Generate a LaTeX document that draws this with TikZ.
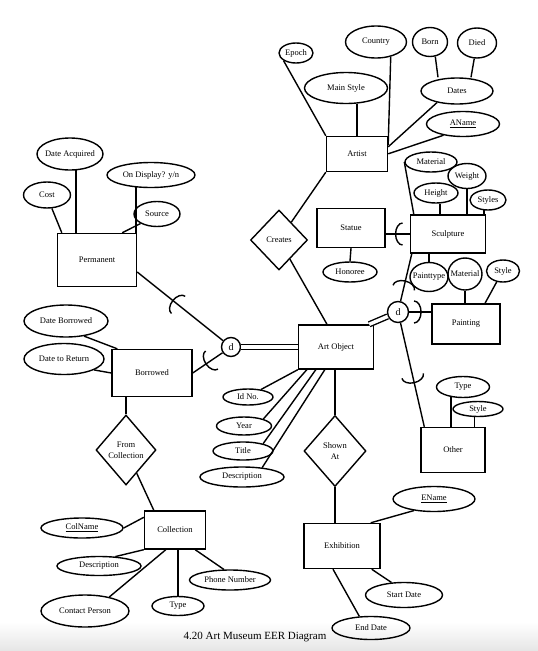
\documentclass[tikz,border=0pt]{standalone}
\usepackage{fontspec}
\setmainfont{Liberation Serif}
\usetikzlibrary{shapes.geometric,decorations.markings}
\tikzset{entity/.style = {draw, rectangle, inner sep=0pt},
  attr/.style = {draw, ellipse, inner xsep=-4pt, inner ysep=0pt},
  rel/.style = {draw, diamond, inner sep=0pt, align=center},
  disj/.style = {draw, circle, minimum size=21pt, inner sep=0pt, font=\fontsize{10}{12}\selectfont},
  dbl/.style = {double, double distance=3.5pt},
  subarc/.style = {postaction=decorate, decoration={markings,
      mark=at position #1 with {\draw (0pt,11pt) arc[start angle=90, end angle=270, x radius=7pt, y radius=11pt];}}}}

\begin{document}
\begin{tikzpicture}[x=1pt, y=-1pt, line width=1.4pt, font=\fontsize{8.5}{11}\selectfont]
        \useasboundingbox (0,0) rectangle (538,651);
        \shade[top color=white, bottom color=black!10] (0,622) rectangle (538,651);
        % artist
        \node[entity, minimum width=61, minimum height=35] (artist) at (357,154) {Artist};
        \node[attr, minimum width=34, minimum height=20] (epoch) at (296,53) {Epoch};
        \node[attr, minimum width=61, minimum height=32] (country) at (376,42) {Country};
        \node[attr, minimum width=35, minimum height=29] (born) at (430,42) {Born};
        \node[attr, minimum width=39, minimum height=30] (died) at (477,43) {Died};
        \node[attr, minimum width=83, minimum height=31] (mainstyle) at (346,88) {Main Style};
        \node[attr, minimum width=72, minimum height=26] (dates) at (457,91) {Dates};
        \node[attr, minimum width=73, minimum height=25] (aname) at (463,124) {\underline{AName}};
        \draw (epoch.south west) -- (artist.north west);
        \draw (artist.north) -- (artist.north |- mainstyle.south);
        \draw (country.-45) -- ([yshift=-9pt]artist.north east);
        \draw (dates.210) -- ([yshift=-11pt]artist.north east);
        \draw (aname.210) -- ([yshift=-18pt]artist.north east);
        \draw (born.-70) -- ([xshift=-19pt]dates.north);
        \draw (died.-100) -- ([xshift=14pt]dates.north);
        % sculpture, statue
        \node[entity, minimum width=75, minimum height=38] (sculpture) at (448,234) {Sculpture};
        \node[attr, minimum width=52, minimum height=20] (material) at (431,162) {Material};
        \node[attr, minimum width=38, minimum height=25] (weight) at (467,176) {Weight};
        \node[attr, minimum width=44, minimum height=20] (height) at (436,193) {Height};
        \node[attr, minimum width=36, minimum height=20] (styles) at (488,200) {Styles};
        \draw (material.west) -- ([xshift=4pt]sculpture.north west);
        \draw (weight.south) -- (weight.south |- sculpture.north);
        \draw (height.-70) -- (height.-70 |- sculpture.north);
        \draw (styles.-110) -- (styles.-110 |- sculpture.north);
        \node[entity, minimum width=68, minimum height=39] (statue) at (351,228) {Statue};
        \node[attr, minimum width=54, minimum height=20] (honoree) at (350,272) {Honoree};
        \draw (statue.south) -- (honoree.north);
        \draw[subarc=0.7] (sculpture.west -| statue.east) -- (sculpture.west);
        % art object and its subclasses
        \node[rel, minimum width=57, minimum height=60] (creates) at (279,240) {Creates};
        \node[entity, minimum width=75, minimum height=44] (artobj) at (336,347) {Art Object};
        \draw (artist.south west) -- (creates);
        \draw (creates) -- ([xshift=-9pt]artobj.north);
        \node[disj] (dright) at (398,312) {d};
        \node[entity, minimum width=68, minimum height=40] (painting) at (466,324) {Painting};
        \node[attr, minimum width=38, minimum height=29] (painttype) at (429,277) {Painttype};
        \node[attr, minimum width=34, minimum height=32] (material2) at (465,274) {Material};
        \node[attr, minimum width=33, minimum height=22] (style) at (503,271) {Style};
        \draw (painttype.north) -- (painttype.north |- sculpture.south);
        \draw (material2.south) -- (material2.south |- painting.north);
        \draw (style.-120) -- ([xshift=19pt]painting.north);
        \node[entity, minimum width=64, minimum height=45] (other) at (453,450) {Other};
        \node[attr, minimum width=53, minimum height=21] (type2) at (463,387) {Type};
        \node[attr, minimum width=50, minimum height=15] (style2) at (478,409) {Style};
        \draw (type2.-140) -- (type2.-140 |- other.north);
        \draw (style2.-115) -- (style2.-115 |- other.north);
        \draw[dbl] ([xshift=-5pt]artobj.north east) -- (dright);
        \draw[subarc=0.72] ([xshift=2pt]sculpture.south west) -- (dright);
        \draw[subarc=0.78] (dright -| painting.west) -- (dright);
        \draw[subarc=0.49] ([xshift=4pt]other.north west) -- (dright);
        % permanent / borrowed
        \node[entity, minimum width=79, minimum height=53] (permanent) at (97,260) {Permanent};
        \node[attr, minimum width=47, minimum height=26] (cost) at (47,195) {Cost};
        \node[attr, minimum width=66, minimum height=32] (dateacq) at (70,154) {Date Acquired};
        \node[attr, minimum width=88, minimum height=25] (ondisplay) at (151,175) {On Display? y/n};
        \node[attr, minimum width=46, minimum height=25] (source) at (157,214) {Source};
        \draw (cost.-70) -- ([xshift=5pt]permanent.north west);
        \draw (dateacq.-70) -- (dateacq.-70 |- permanent.north);
        \draw (ondisplay.-140) -- (ondisplay.-140 |- permanent.north);
        \draw (source.-150) -- ([xshift=-15pt]permanent.north east);
        \node[disj, minimum size=19pt] (dleft) at (231,347) {d};
        \node[entity, minimum width=80, minimum height=47] (borrowed) at (152,373) {Borrowed};
        \node[attr, minimum width=84, minimum height=32] (datebor) at (66,321) {Date Borrowed};
        \node[attr, minimum width=80, minimum height=31] (dateret) at (64,359) {Date to Return};
        \draw (datebor.-40) -- ([xshift=6pt]borrowed.north west);
        \draw (dateret.-20) -- (borrowed.west);
        \draw[subarc=0.48] ([yshift=-12pt]permanent.east) -- (dleft);
        \draw[subarc=0.64] (borrowed.east) -- (dleft);
        \draw[dbl] (dleft) -- (dleft -| artobj.west);
        % collection
        \node[rel, minimum width=60, minimum height=70] (fromcoll) at (126,450) {From\\Collection};
        \node[entity, minimum width=61, minimum height=38] (collection) at (175,530) {Collection};
        \draw (fromcoll.north) -- (fromcoll.north |- borrowed.south);
        \draw (fromcoll) -- ([xshift=10pt]collection.north west);
        \node[attr, minimum width=82, minimum height=20] (colname) at (82,528) {\underline{ColName}};
        \node[attr, minimum width=84, minimum height=19] (colldesc) at (99,566) {Description};
        \node[attr, minimum width=88, minimum height=32] (contact) at (85,611) {Contact Person};
        \node[attr, minimum width=52, minimum height=19] (colltype) at (178,606) {Type};
        \node[attr, minimum width=81, minimum height=20] (phone) at (230,580) {Phone Number};
        \draw (colname.east) -- ([yshift=-7pt]collection.north west);
        \draw (colldesc.30) -- (collection.south west);
        \draw (contact.30) -- ([xshift=22pt]collection.south west);
        \draw (colltype.north) -- (colltype.north |- collection.south);
        \draw (phone.120) -- ([xshift=-11pt]collection.south east);
        % art object attributes
        \node[attr, minimum width=50, minimum height=16] (idno) at (248,397) {Id No.};
        \node[attr, minimum width=55, minimum height=18] (year) at (244,426) {Year};
        \node[attr, minimum width=60, minimum height=18] (title) at (243,451) {Title};
        \node[attr, minimum width=84, minimum height=20] (artdesc) at (242,477) {Description};
        \draw (idno.30) -- (artobj.south west);
        \draw (year.20) -- ([xshift=9pt]artobj.south west);
        \draw (title.20) -- ([xshift=18pt]artobj.south west);
        \draw (artdesc.25) -- ([xshift=27pt]artobj.south west);
        % exhibition
        \node[rel, minimum width=62, minimum height=71] (shownat) at (335,451) {Shown\\At};
        \node[entity, minimum width=76, minimum height=45] (exhibition) at (342,546) {Exhibition};
        \draw (shownat.north) -- (shownat.north |- artobj.south);
        \draw (shownat.south) -- (shownat.south |- exhibition.north);
        \node[attr, minimum width=82, minimum height=25] (ename) at (434,499) {\underline{EName}};
        \node[attr, minimum width=77, minimum height=25] (startdate) at (404,595) {Start Date};
        \node[attr, minimum width=78, minimum height=23] (enddate) at (371,628) {End Date};
        \draw (ename.-150) -- ([xshift=-10pt]exhibition.north east);
        \draw (startdate.135) -- ([xshift=-9pt]exhibition.south east);
        \draw (enddate.135) -- ([xshift=-9pt]exhibition.south);
        \node[font=\fontsize{11}{13}\selectfont] (caption) at (255,637) {4.20 Art Museum EER Diagram};
\end{tikzpicture}
\end{document}
